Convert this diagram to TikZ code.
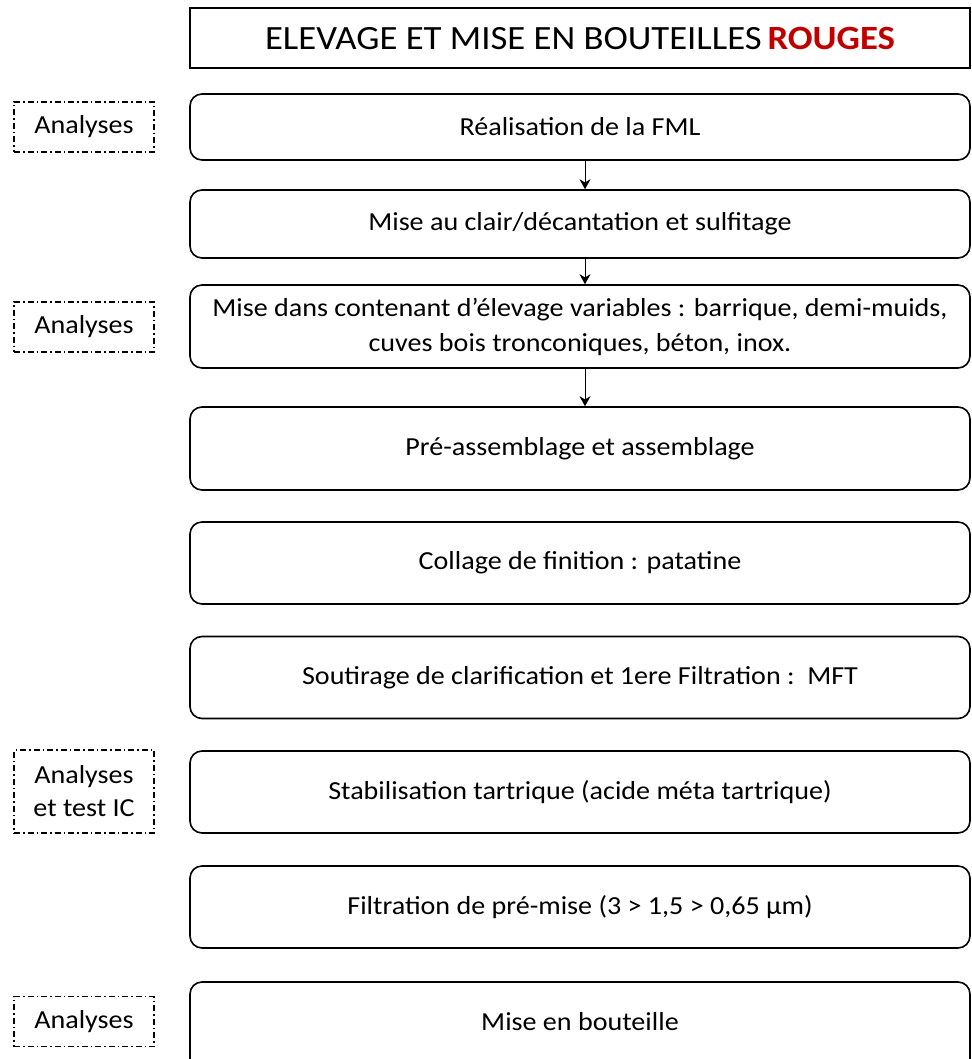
\documentclass[tikz,border=0pt]{standalone}
\usepackage{fontspec}
\setmainfont{Carlito}[FakeStretch=1.08]
\usepackage{xcolor}
\usetikzlibrary{arrows.meta}
\definecolor{rouge}{RGB}{192,0,0}

\begin{document}
\begin{tikzpicture}[x=1pt,y=1pt,->,>=stealth,auto,
    main node/.style={rectangle,rounded corners=12pt,draw,line width=1.6pt,minimum width=780pt,minimum height=82pt,align=center,font=\fontsize{26}{35}\selectfont},
    ana node/.style={rectangle,draw,line width=1.3pt,dash pattern=on 6pt off 3pt on 1.5pt off 3pt,minimum width=140pt,minimum height=50pt,align=center,font=\fontsize{26}{33}\selectfont},
    fleche/.style={->,line width=0.8pt,>={Stealth[length=10pt,width=11pt]}}]

            \useasboundingbox (0,0) rectangle (971,-1059);

            \node[rectangle, draw, line width=1.4pt, minimum width=780pt, minimum height=60pt, font=\fontsize{34}{40}\selectfont] (t) at (580,-38) {ELEVAGE ET MISE EN BOUTEILLES\,\textbf{\textcolor{rouge}{ROUGES}}};

            \node[main node, minimum height=66pt] (1) at (580,-127) {Réalisation de la FML};
            \node[main node, minimum height=68pt] (2) at (580,-224) {Mise au clair/décantation et sulfitage};
            \node[main node, minimum height=83pt] (3) at (580,-326.5) {Mise dans contenant d’élevage variables : barrique, demi-muids,\\cuves bois tronconiques, béton, inox.};
            \node[main node, minimum height=83pt] (4) at (580,-448.5) {Pré-assemblage et assemblage};
            \node[main node] (5) at (580,-563) {Collage de finition : patatine};
            \node[main node] (6) at (580,-677.5) {Soutirage de clarification et 1ere Filtration :\ \ MFT};
            \node[main node] (7) at (580,-792) {Stabilisation tartrique (acide méta tartrique)};
            \node[main node] (8) at (580,-907) {Filtration de pré-mise (3 > 1,5 > 0,65 µm)};
            \node[main node, minimum height=90pt] (9) at (580,-1027) {};
            \node (9t) at (580,-1022) [font=\fontsize{26}{35}\selectfont] {Mise en bouteille};

            \node[ana node] (a1) at (84,-127) {Analyses};
            \node[ana node] (a3) at (84,-327) {Analyses};
            \node[ana node, minimum height=83pt] (a7) at (84,-791.5) {Analyses\\et test IC};
            \node[ana node] (a9) at (84,-1021.5) {Analyses};

            \draw[fleche] ([xshift=5pt]1.south) to ([xshift=5pt]2.north);
            \draw[fleche] ([xshift=5pt]2.south) to ([xshift=5pt]3.north);
            \draw[fleche] ([xshift=5pt]3.south) to ([xshift=5pt]4.north);

        \end{tikzpicture}
\end{document}
